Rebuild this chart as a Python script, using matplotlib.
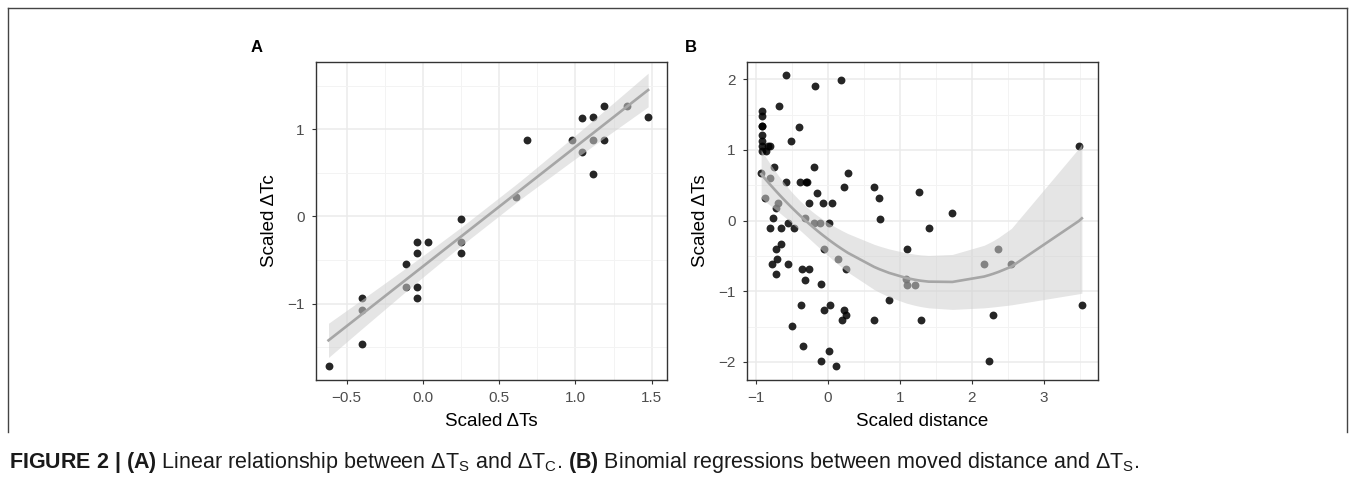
"""Figure 2: scaled temperature differences, linear fit (A) and quadratic fit (B)."""

import matplotlib
matplotlib.use("Agg")
import matplotlib.pyplot as plt
import numpy as np
from matplotlib import font_manager
from matplotlib.lines import Line2D

# ---- data ---------------------------------------------------------------
# panel A: scaled dTs vs scaled dTc
a_x = [-0.618, -0.40, -0.40, -0.40, -0.109, -0.109, -0.037, -0.037, -0.037,
       -0.037, 0.033, 0.249, 0.249, 0.249, 0.611, 0.683, 0.974, 1.044, 1.044,
       1.116, 1.116, 1.116, 1.188, 1.188, 1.335, 1.476]
a_y = [-1.72, -0.94, -1.07, -1.46, -0.55, -0.81, -0.295, -0.425, -0.81,
       -0.94, -0.295, -0.035, -0.295, -0.425, 0.22, 0.875, 0.875, 1.13, 0.74,
       1.139, 0.878, 0.489, 1.265, 0.878, 1.265, 1.139]

# panel B: scaled distance vs scaled dTs
b_x = [-0.59, -0.18, 0.18, -0.68, -0.92, -0.92, -0.92, -0.92, -0.92, -0.92,
       -0.92, -0.92, -0.86, -0.83, -0.80, -0.41, -0.52, -0.93, -0.75, -0.81,
       -0.19, 0.28, -0.59, -0.39, -0.31, -0.29, 0.22, -0.15, -0.88, -0.69,
       -0.73, -0.26, -0.07, 0.06, -0.77, -0.32, -0.55, -0.19, -0.11, 0.02,
       -0.81, -0.66, -0.47, -0.05, -0.66, -0.72, -0.71, -0.78, -0.55, -0.73,
       -0.36, -0.27, -0.32, -0.10, 0.14, 0.25, -0.38, -0.06, 0.03, 0.22,
       0.25, 0.20, -0.50, -0.35, 0.02, -0.10, 0.11, 0.64, 0.64, 0.71,
       0.72, 3.49, 1.26, 1.73, 1.40, 1.10, 2.17, 2.37, 2.55, 1.08,
       1.10, 1.21, 1.30, 2.30, 3.53, 2.24, 0.85]
b_y = [2.06, 1.91, 1.99, 1.62, 1.55, 1.48, 1.34, 1.34, 1.21, 1.12,
       1.05, 0.98, 0.98, 1.05, 1.05, 1.33, 1.12, 0.68, 0.76, 0.61,
       0.76, 0.68, 0.54, 0.54, 0.54, 0.54, 0.47, 0.39, 0.32, 0.25,
       0.18, 0.25, 0.25, 0.25, 0.04, 0.04, -0.03, -0.03, -0.03, -0.03,
       -0.11, -0.11, -0.11, -0.40, -0.33, -0.40, -0.54, -0.62, -0.62, -0.76,
       -0.69, -0.69, -0.84, -0.90, -0.54, -0.69, -1.20, -1.27, -1.20, -1.27,
       -1.34, -1.41, -1.49, -1.77, -1.84, -1.99, -2.06, -1.41, 0.47, 0.32,
       0.03, 1.05, 0.40, 0.11, -0.11, -0.40, -0.61, -0.40, -0.61, -0.83,
       -0.91, -0.91, -1.41, -1.34, -1.19, -1.99, -1.12]

a_xticks = [-0.5, 0.0, 0.5, 1.0, 1.5]
a_yticks = [-1, 0, 1]
b_xticks = [-1, 0, 1, 2, 3]
b_yticks = [-2, -1, 0, 1, 2]

CAPTION = (r"$\mathbf{FIGURE\ 2\ |\ (A)}$ Linear relationship between "
           r"ΔT$_\mathrm{S}$ and ΔT$_\mathrm{C}$. $\mathbf{(B)}$ Binomial "
           r"regressions between moved distance and ΔT$_\mathrm{S}$.")

# ---- fonts ---------------------------------------------------------------
installed = {f.name for f in font_manager.fontManager.ttflist}
BASE = "Liberation Sans" if "Liberation Sans" in installed else "DejaVu Sans"
plt.rcParams["font.family"] = [BASE, "DejaVu Sans"]
plt.rcParams["mathtext.fontset"] = "custom"
plt.rcParams["mathtext.rm"] = BASE
plt.rcParams["mathtext.bf"] = BASE + ":bold"
plt.rcParams["mathtext.it"] = BASE + ":italic"


def t_quantile(df, p=0.975):
    # Cornish-Fisher expansion of Student t around the normal quantile
    z = 1.959964
    return (z + (z**3 + z) / (4 * df)
            + (5 * z**5 + 16 * z**3 + 3 * z) / (96 * df**2))


def poly_fit(x, y, deg):
    """lm(y ~ poly(x, deg)) with 95% CI, predicted at the observed x."""
    x, y = np.asarray(x, float), np.asarray(y, float)
    n = len(x)
    X = np.vander(x, deg + 1)
    beta, *_ = np.linalg.lstsq(X, y, rcond=None)
    resid = y - X @ beta
    dof = n - (deg + 1)
    s2 = np.sum(resid**2) / dof
    cov = s2 * np.linalg.inv(X.T @ X)
    grid = np.unique(x)
    G = np.vander(grid, deg + 1)
    fit = G @ beta
    se = np.sqrt(np.einsum("ij,jk,ik->i", G, cov, G))
    t = t_quantile(dof)
    return grid, fit, fit - t * se, fit + t * se


def style_axes(ax, xlim, ylim, xticks, yticks, xminor, yminor):
    ax.set_xlim(*xlim)
    ax.set_ylim(*ylim)
    ax.set_xticks(xticks)
    ax.set_yticks(yticks)
    ax.set_xticks(xminor, minor=True)
    ax.set_yticks(yminor, minor=True)
    ax.grid(True, which="major", color="#ebebeb", lw=1.1, zorder=0)
    ax.grid(True, which="minor", color="#f3f3f3", lw=0.7, zorder=0)
    ax.set_axisbelow(True)
    for sp in ax.spines.values():
        sp.set_color("#333333")
        sp.set_linewidth(1.0)
    ax.tick_params(which="major", length=3, width=0.8, color="#333333",
                   labelsize=11, labelcolor="#4d4d4d", pad=5)
    ax.tick_params(which="minor", length=0)


def draw_panel(ax, x, y, grid, fit, lo, hi):
    ax.scatter(x, y, s=32, color="black", alpha=0.85, lw=0, zorder=2)
    ax.fill_between(grid, lo, hi, color="#d0d0d0", alpha=0.55, lw=0, zorder=3)
    ax.plot(grid, fit, color="#a6a6a6", lw=1.9, zorder=4)


fig = plt.figure(figsize=(13.55, 4.94), dpi=100)

# panel A
axA = fig.add_axes([0.2332, 0.2308, 0.2591, 0.6437])
draw_panel(axA, a_x, a_y, *poly_fit(a_x, a_y, 1))
style_axes(axA, (-0.70, 1.60), (-1.875, 1.77), a_xticks, a_yticks,
           [-0.25, 0.25, 0.75, 1.25], [-1.5, -0.5, 0.5, 1.5])
axA.set_xticklabels(["\u22120.5", "0.0", "0.5", "1.0", "1.5"])
axA.set_yticklabels(["\u22121", "0", "1"])
axA.set_xlabel("Scaled ΔTs", fontsize=13.5, labelpad=6)
axA.set_ylabel("Scaled ΔTc", fontsize=13.5, labelpad=7)

# panel B
axB = fig.add_axes([0.5511, 0.2308, 0.2590, 0.6437])
draw_panel(axB, b_x, b_y, *poly_fit(b_x, b_y, 2))
style_axes(axB, (-1.13, 3.75), (-2.255, 2.245), b_xticks, b_yticks,
           [-0.5, 0.5, 1.5, 2.5, 3.5], [-1.5, -0.5, 0.5, 1.5])
axB.set_xticklabels(["\u22121", "0", "1", "2", "3"])
axB.set_yticklabels(["\u22122", "\u22121", "0", "1", "2"])
axB.set_xlabel("Scaled distance", fontsize=13.5, labelpad=6)
axB.set_ylabel("Scaled ΔTs", fontsize=13.5, labelpad=7)

# panel letters
fig.text(257 / 1355, 1 - 47 / 494, "A", fontsize=12, fontweight="bold",
         ha="center", va="center")
fig.text(691 / 1355, 1 - 47 / 494, "B", fontsize=12, fontweight="bold",
         ha="center", va="center")

# frame around the graphic
fx0, fx1 = 8 / 1355, 1347 / 1355
fy0, fy1 = 1 - 432 / 494, 1 - 8 / 494
for xs, ys in [([fx0, fx0], [fy0, fy1]), ([fx0, fx1], [fy1, fy1]),
               ([fx1, fx1], [fy1, fy0])]:
    fig.add_artist(Line2D(xs, ys, transform=fig.transFigure,
                          color="#444444", lw=1.0))

fig.text(9 / 1355, 1 - 462 / 494, CAPTION, fontsize=15.5,
         ha="left", va="center", color="#1a1a1a")

fig.savefig("out.png", dpi=100)
